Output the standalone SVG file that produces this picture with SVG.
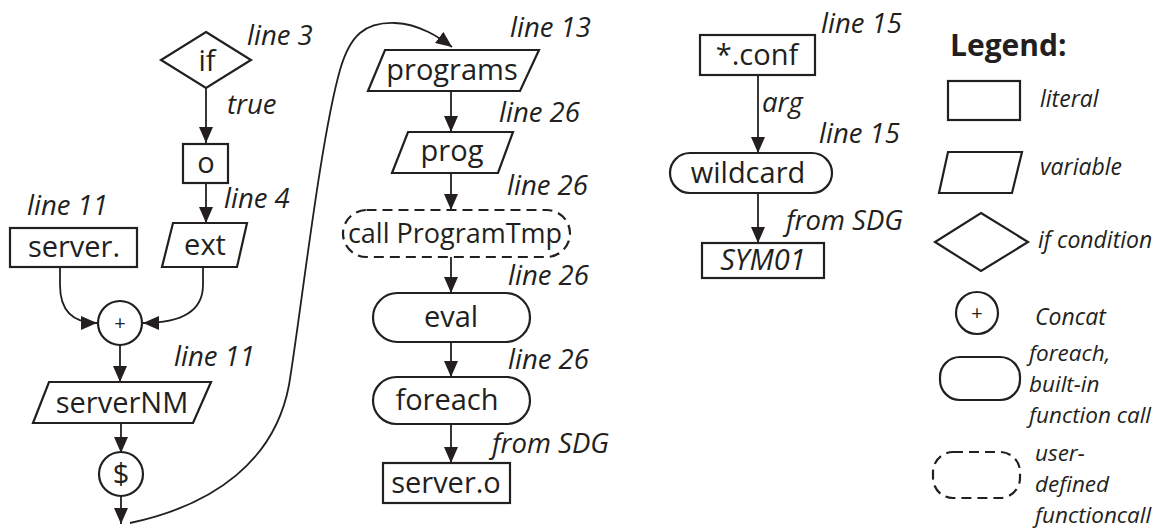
<svg xmlns="http://www.w3.org/2000/svg" width="1170" height="531" viewBox="0 0 1170 531">
<style>
text{font-family:"Open Sans","Noto Sans",sans-serif;fill:#231f20}
.n{font-size:29px;text-anchor:middle}
.l{font-size:27.5px;font-style:italic}
.lg{font-size:23px;font-style:italic}
.lm{font-size:22.5px;font-style:italic}
.s{fill:#fff;stroke:#231f20;stroke-width:2.2}
.d{fill:#fff;stroke:#231f20;stroke-width:2.2;stroke-dasharray:10 6}
.c{fill:none;stroke:#231f20;stroke-width:1.8}
</style>
<defs>
<marker id="ah" markerUnits="userSpaceOnUse" markerWidth="16" markerHeight="14" viewBox="0 0 16 14" refX="16" refY="7" orient="auto">
<path d="M0,0 L16,7 L0,14 Z" fill="#231f20"/>
</marker>
</defs>
<rect width="1170" height="531" fill="#fff"/>
<g id="connectors">
<line class="c" x1="206" y1="88" x2="206" y2="143" marker-end="url(#ah)"/>
<line class="c" x1="206" y1="183" x2="206" y2="223" marker-end="url(#ah)"/>
<path class="c" d="M60,267 L60,285 Q60,323 97,323" marker-end="url(#ah)"/>
<path class="c" d="M203,267 L203,285 Q203,323 143,323" marker-end="url(#ah)"/>
<line class="c" x1="120" y1="345" x2="120" y2="382" marker-end="url(#ah)"/>
<line class="c" x1="121" y1="423" x2="121" y2="453" marker-end="url(#ah)"/>
<line class="c" x1="121" y1="496" x2="121" y2="524" marker-end="url(#ah)"/>
<path class="c" d="M130,523 C215,505 275,460 289,385 C300,320 320,140 340,70 C350,35 365,22 395,23 C420,24 440,38 452,47" marker-end="url(#ah)"/>
<line class="c" x1="451" y1="91" x2="451" y2="132" marker-end="url(#ah)"/>
<line class="c" x1="451" y1="173" x2="451" y2="210" marker-end="url(#ah)"/>
<line class="c" x1="451" y1="257" x2="451" y2="293" marker-end="url(#ah)"/>
<line class="c" x1="451" y1="342" x2="451" y2="377" marker-end="url(#ah)"/>
<line class="c" x1="451" y1="424" x2="451" y2="463" marker-end="url(#ah)"/>
<line class="c" x1="758" y1="75" x2="758" y2="153" marker-end="url(#ah)"/>
<line class="c" x1="758" y1="193" x2="758" y2="243" marker-end="url(#ah)"/>
</g>
<g id="labels">
<text class="l" x="247" y="45">line 3</text>
<text class="l" x="227" y="114">true</text>
<text class="l" x="224" y="208">line 4</text>
<text class="l" x="27" y="215">line 11</text>
<text class="l" x="174" y="366">line 11</text>
<text class="l" x="510" y="37">line 13</text>
<text class="l" x="499" y="122">line 26</text>
<text class="l" x="507" y="195">line 26</text>
<text class="l" x="508" y="285">line 26</text>
<text class="l" x="508" y="369">line 26</text>
<text class="l" x="492" y="453">from SDG</text>
<text class="l" x="821" y="33">line 15</text>
<text class="l" x="762" y="112">arg</text>
<text class="l" x="819" y="143">line 15</text>
<text class="l" x="786" y="230">from SDG</text>
</g>
<g id="if"><polygon class="s" points="206,32 251,60 206,88 161,60"/><text class="n" x="207" y="71">if</text></g>
<g id="o"><rect class="s" x="183" y="144" width="45" height="39"/><text class="n" x="206" y="173">o</text></g>
<g id="ext"><polygon class="s" points="173,223 247,223 237,267 162,267"/><text class="n" x="205" y="255">ext</text></g>
<g id="server"><rect class="s" x="10" y="228" width="127" height="39"/><text class="n" x="74" y="257">server.</text></g>
<g id="concat"><circle class="s" cx="120" cy="323" r="22"/><text class="n" x="120" y="330" style="font-size:20px">+</text></g>
<g id="serverNM"><polygon class="s" points="49,382 211,382 193,423 33,423"/><text class="n" x="122" y="413">serverNM</text></g>
<g id="dollar"><circle class="s" cx="121" cy="474" r="22"/><text class="n" x="121" y="484">$</text></g>
<g id="programs"><polygon class="s" points="385,50 539,50 520,91 368,91"/><text class="n" x="452" y="80">programs</text></g>
<g id="prog"><polygon class="s" points="408,132 513,132 498,173 392,173"/><text class="n" x="452" y="161">prog</text></g>
<g id="call"><rect class="d" x="343" y="210" width="227" height="47" rx="23.5"/><text class="n" x="455" y="243" style="font-size:27px">call ProgramTmp</text></g>
<g id="eval"><rect class="s" x="373" y="293" width="157" height="49" rx="24.5"/><text class="n" x="451" y="327">eval</text></g>
<g id="foreach"><rect class="s" x="373" y="377" width="157" height="47" rx="23.5"/><text class="n" x="447" y="410">foreach</text></g>
<g id="servero"><rect class="s" x="383" y="463" width="127" height="40"/><text class="n" x="446" y="493">server.o</text></g>
<g id="conf"><rect class="s" x="700" y="35" width="115" height="40"/><text class="n" x="757" y="65">*.conf</text></g>
<g id="wildcard"><rect class="s" x="670" y="153" width="162" height="40" rx="20"/><text class="n" x="748" y="183">wildcard</text></g>
<g id="sym01"><rect class="s" x="702" y="243" width="122" height="35"/><text class="n" x="763" y="270" style="font-style:italic">SYM01</text></g>
<g id="legend">
<text x="950" y="56" style="font-size:30px;font-weight:bold">Legend:</text>
<rect class="s" x="948" y="81" width="72" height="39"/>
<text class="lg" x="1040" y="107">literal</text>
<polygon class="s" points="948,152 1022,152 1012,193 939,193"/>
<text class="lg" x="1040" y="175">variable</text>
<polygon class="s" points="981,213 1028,242 981,271 935,242"/>
<text class="lg" x="1038" y="248">if condition</text>
<circle class="s" cx="977" cy="313" r="21"/>
<text class="n" x="977" y="320" style="font-size:20px">+</text>
<text class="lg" x="1035" y="325">Concat</text>
<rect class="s" x="940" y="357" width="80" height="43" rx="20"/>
<text class="lm" x="1029" y="361">foreach,</text>
<text class="lm" x="1029" y="392">built-in</text>
<text class="lm" x="1029" y="423">function call</text>
<rect class="d" x="933" y="452" width="87" height="46" rx="20"/>
<text class="lm" x="1035" y="461">user-</text>
<text class="lm" x="1035" y="492">defined</text>
<text class="lm" x="1035" y="523">functioncall</text>
</g>
</svg>
